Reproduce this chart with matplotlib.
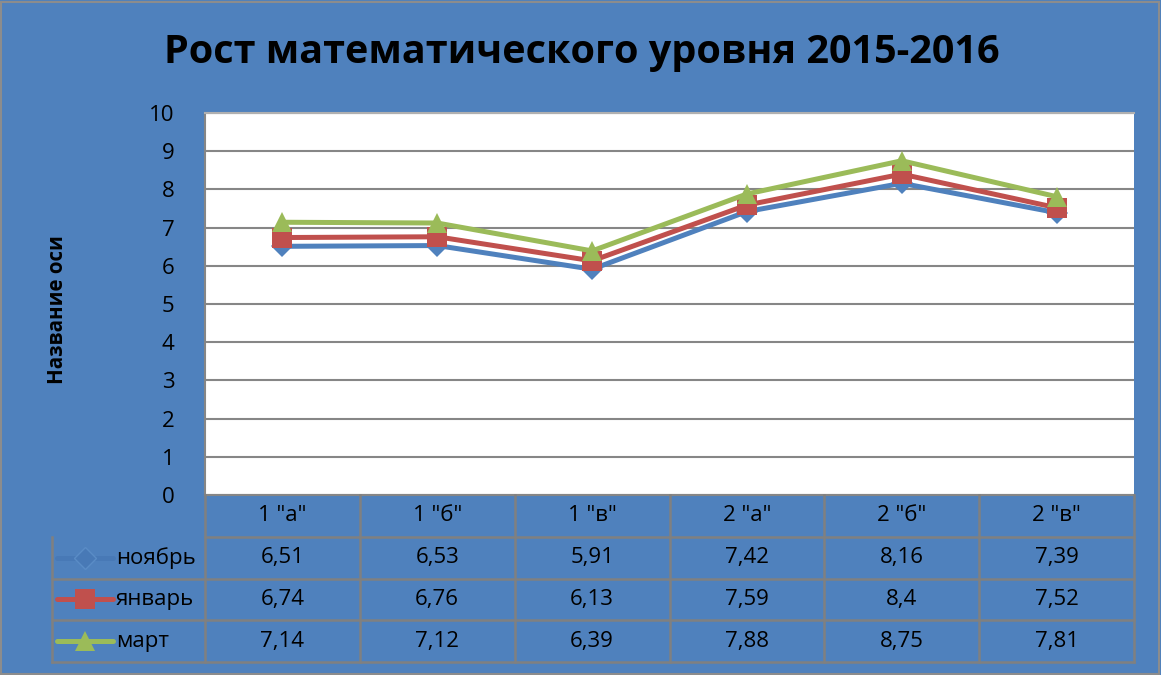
import matplotlib.pyplot as plt
from matplotlib.lines import Line2D
from matplotlib.patches import Rectangle

plt.rcParams['font.family'] = ['Open Sans', 'DejaVu Sans']

# data
classes = ['1 "а"', '1 "б"', '1 "в"', '2 "а"', '2 "б"', '2 "в"']
series_names = ['ноябрь', 'январь', 'март']
nov = [6.51, 6.53, 5.91, 7.42, 8.16, 7.39]
jan = [6.74, 6.76, 6.13, 7.59, 8.4, 7.52]
mar = [7.14, 7.12, 6.39, 7.88, 8.75, 7.81]

bg = '#4F81BD'
grid_c = '#868686'
colors = ['#4F81BD', '#C0504D', '#9BBB59']
markers = ['D', 's', '^']
msizes = [11, 14, 15]

W, H = 1161, 675
fig = plt.figure(figsize=(W / 100, H / 100), dpi=100, facecolor=bg)
fig.add_artist(Rectangle((0.001, 0.002), 0.997, 0.995, transform=fig.transFigure,
                         fill=False, edgecolor='#8c8c8c', linewidth=1.5))

# plot area
x0, x1, ytop, ybot = 205, 1134, 113, 495
ax = fig.add_axes([x0 / W, (H - ybot) / H, (x1 - x0) / W, (ybot - ytop) / H])
ax.set_facecolor('white')
xs = list(range(len(classes)))
for vals, c, m, ms in zip([nov, jan, mar], colors, markers, msizes):
  ax.plot(xs, vals, color=c, linewidth=3.6, marker=m, markersize=ms,
          markeredgewidth=0, zorder=3)
ax.set_xlim(-0.5, len(classes) - 0.5)
ax.set_ylim(0, 10)
ax.set_yticks(range(0, 11))
ax.set_xticks([])
ax.tick_params(axis='y', length=0, pad=22, labelsize=16)
ax.yaxis.grid(True, color=grid_c, linewidth=1.5)
ax.set_axisbelow(True)
ax.spines['right'].set_visible(False)
for s in ['left', 'bottom', 'top']:
  ax.spines[s].set_color(grid_c)
  ax.spines[s].set_linewidth(1.5)
ax.spines['top'].set_color('#b0b0b0')

fig.text(582 / W, 1 - 52 / H, 'Рост математического уровня 2015-2016',
         ha='center', va='center', fontsize=28.5, fontweight='bold')
fig.text(58 / W, 1 - 310 / H, 'Название оси', rotation=90,
         ha='center', va='center', fontsize=14.8, fontweight='bold')

# data table
tl, tb = 52, 662
tab = fig.add_axes([tl / W, (H - tb) / H, (x1 - tl) / W, (tb - ybot) / H])
tab.set_facecolor('none')
tab.axis('off')
colw = (x1 - x0) / len(classes)
left = -0.5 - (x0 - tl) / colw
tab.set_xlim(left, len(classes) - 0.5)
tab.set_ylim(4, 0)
lc = '#808080'
lw = 1.8
tab.plot([-0.5, len(classes) - 0.5], [1, 1], color=lc, lw=lw, clip_on=False)
for r in [2, 3, 4]:
  tab.plot([left, len(classes) - 0.5], [r, r], color=lc, lw=lw, clip_on=False)
tab.plot([left, left], [1, 4], color=lc, lw=lw, clip_on=False)
for i in range(len(classes) + 1):
  tab.plot([i - 0.5, i - 0.5], [0, 4], color=lc, lw=lw, clip_on=False)

for i, name in enumerate(classes):
  tab.text(i, 0.5, name, ha='center', va='center', fontsize=16)

# legend keys: the blue one is nearly invisible on the blue fill
key_colors = ['#4879B6', colors[1], colors[2]]
key_edges = ['#5A8CC6', colors[1], colors[2]]
for r, (name, vals, c, e, m, ms) in enumerate(zip(series_names, [nov, jan, mar],
                                                   key_colors, key_edges,
                                                   markers, msizes)):
  yr = r + 1.5
  for i, v in enumerate(vals):
    tab.text(i, yr, ('%g' % v).replace('.', ','), ha='center', va='center',
             fontsize=16)
  seg_l = left + (57 - tl) / colw
  seg_r = left + (113 - tl) / colw
  tab.add_line(Line2D([seg_l, seg_r], [yr, yr], color=c, linewidth=3.6,
                      solid_capstyle='round', clip_on=False))
  tab.plot([(seg_l + seg_r) / 2], [yr], marker=m, color=c, markersize=ms,
           markeredgecolor=e, markeredgewidth=1.0 if r == 0 else 0,
           clip_on=False)
  tab.text(left + (116 - tl) / colw, yr, name, ha='left', va='center',
           fontsize=16)

fig.savefig('out.png', dpi=100, facecolor=bg)
